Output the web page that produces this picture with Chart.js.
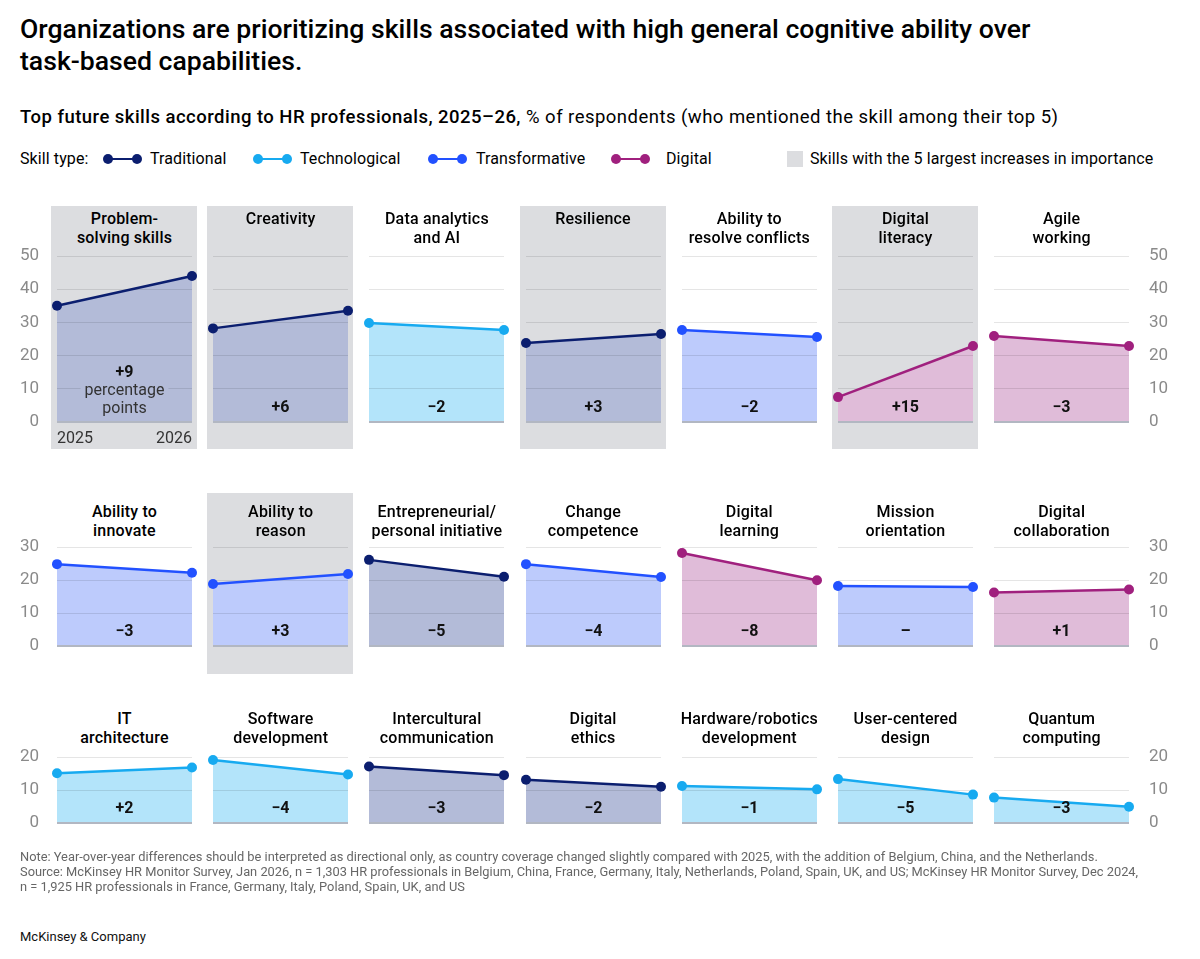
<!DOCTYPE html>
<html>
<head>
<meta charset="utf-8">
<script src="https://cdn.jsdelivr.net/npm/chart.js@4.4.1/dist/chart.umd.min.js"></script>
<style>
    body { margin: 0; width: 1200px; height: 959px; position: relative; background: #fff; overflow: hidden;
           font-family: Roboto, "Liberation Sans", sans-serif; color: #000; }
    .abs { position: absolute; }
    .title { left: 20px; top: 13px; font-size: 26.6px; line-height: 32px; font-weight: 500; white-space: nowrap; }
    .subtitle { left: 20px; top: 106px; font-size: 18.5px; letter-spacing: 0.47px; white-space: nowrap; }
    .subtitle b { font-weight: 500; }
    .legend { top: 149px; font-size: 16px; line-height: 20px; letter-spacing: 0.1px; white-space: nowrap; }
    .marker { top: 154px; width: 39px; height: 10px; }
    .marker i { position: absolute; left: 4px; right: 4px; top: 4px; height: 2px; }
    .marker b { position: absolute; top: 0; width: 10px; height: 10px; border-radius: 50%; }
    .swatch { top: 151px; left: 787px; width: 16px; height: 16px; background: #dcdde0; }
    .panelbg { background: #dcdde0; }
    .ptitle { width: 170px; text-align: center; font-size: 16px; line-height: 19px; font-weight: 500; letter-spacing: 0.2px; }
    .note { left: 20px; top: 849px; font-size: 12.85px; line-height: 15px; color: #666; white-space: nowrap; }
    .brand { left: 20px; top: 929px; font-size: 13px; color: #111; }
    canvas { position: absolute; }
</style>
</head>
<body>
<div class="abs title">Organizations are prioritizing skills associated with high general cognitive ability over<br>task-based capabilities.</div>
<div class="abs subtitle"><b>Top future skills according to HR professionals, 2025–26,</b> % of respondents (who mentioned the skill among their top 5)</div>
<div id="legend"></div>
<div id="panels"></div>
<div class="abs note">Note: Year-over-year differences should be interpreted as directional only, as country coverage changed slightly compared with 2025, with the addition of Belgium, China, and the Netherlands.<br>Source: McKinsey HR Monitor Survey, Jan 2026, n = 1,303 HR professionals in Belgium, China, France, Germany, Italy, Netherlands, Poland, Spain, UK, and US; McKinsey HR Monitor Survey, Dec 2024,<br>n = 1,925 HR professionals in France, Germany, Italy, Poland, Spain, UK, and US</div>
<div class="abs brand">McKinsey &amp; Company</div>

<script>
// --- Data ---
const years = ["2025", "2026"];

const skills = [
    "Problem-\nsolving skills", "Creativity", "Data analytics\nand AI", "Resilience",
    "Ability to\nresolve conflicts", "Digital\nliteracy", "Agile\nworking",
    "Ability to\ninnovate", "Ability to\nreason", "Entrepreneurial/\npersonal initiative", "Change\ncompetence",
    "Digital\nlearning", "Mission\norientation", "Digital\ncollaboration",
    "IT\narchitecture", "Software\ndevelopment", "Intercultural\ncommunication", "Digital\nethics",
    "Hardware/robotics\ndevelopment", "User-centered\ndesign", "Quantum\ncomputing"
];

const skillTypes = [
    "Traditional", "Traditional", "Technological", "Traditional", "Transformative", "Digital", "Digital",
    "Transformative", "Transformative", "Traditional", "Transformative", "Digital", "Transformative", "Digital",
    "Technological", "Technological", "Traditional", "Traditional", "Technological", "Technological", "Technological"
];

const values2025 = [35, 28.2, 29.8, 23.8, 27.7, 7.5, 25.9,
                    24.8, 18.8, 26.1, 24.8, 28.2, 18.2, 16.2,
                    15.1, 19.1, 17.1, 13.1, 11.2, 13.3, 7.7];
const values2026 = [44, 33.5, 27.7, 26.5, 25.6, 22.9, 22.9,
                    22.2, 21.8, 21.0, 20.9, 19.9, 17.9, 17.1,
                    16.8, 14.7, 14.5, 11.0, 10.2, 8.6, 4.9];

const changeLabels = ["+9", "+6", "−2", "+3", "−2", "+15", "−3",
                      "−3", "+3", "−5", "−4", "−8", "–", "+1",
                      "+2", "−4", "−3", "−2", "−1", "−5", "−3"];

const highlighted = ["Problem-\nsolving skills", "Creativity", "Resilience", "Digital\nliteracy", "Ability to\nreason"];

const legendTypes = ["Traditional", "Technological", "Transformative", "Digital"];
const rowMax = [50, 30, 20];

// --- Styles ---
const lineColors = { Traditional: "#0b1e6f", Technological: "#17aaf0", Transformative: "#2251ff", Digital: "#a0207e" };
const fillColors = { Traditional: "#b3bbd8", Technological: "#b3e4fa", Transformative: "#bdcbfc", Digital: "#e0bcd9" };
const FONT = "Roboto, 'Liberation Sans', sans-serif";

const plotW = 135;
const plotLeft = (col) => 57 + col * 156.2;
const rowTop = [256, 547, 757];
const rowBottom = [422, 646, 823];
const rowTitleTop = [209, 502, 709];
const greyTop = [206, 493, 0];
const greyBottom = [449, 674, 0];

// --- Legend ---
const legendEl = document.getElementById("legend");
legendEl.insertAdjacentHTML("beforeend", `<div class="abs legend" style="left:20px">Skill type:</div>`);
const markerX = [103, 253, 428, 611];
const labelX = [150, 300, 476, 666];
legendTypes.forEach((t, i) => {
    const c = lineColors[t];
    legendEl.insertAdjacentHTML("beforeend", `
        <div class="abs marker" style="left:${markerX[i]}px"><i style="background:${c}"></i>
            <b style="left:0;background:${c}"></b><b style="right:0;background:${c}"></b></div>
        <div class="abs legend" style="left:${labelX[i]}px">${t}</div>`);
});
legendEl.insertAdjacentHTML("beforeend", `<div class="abs swatch"></div>
    <div class="abs legend" style="left:810px">Skills with the 5 largest increases in importance</div>`);

// --- Change label plugin ---
const changeLabelPlugin = {
    id: "changeLabel",
    afterDraw(chart, args, opts) {
        const { ctx, chartArea } = chart;
        const cx = (chartArea.left + chartArea.right) / 2;
        ctx.save();
        ctx.textAlign = "center";
        ctx.textBaseline = "middle";
        ctx.fillStyle = "#111";
        if (opts.extra) {
            ctx.font = "400 16px " + FONT;
            const w = ctx.measureText("percentage").width + 8;
            ctx.fillStyle = opts.bg;
            ctx.fillRect(cx - w / 2, chartArea.bottom - 40, w, 18);
            ctx.fillStyle = "#333";
            ctx.fillText("percentage", cx, chartArea.bottom - 31);
            ctx.fillText("points", cx, chartArea.bottom - 13);
            ctx.fillStyle = "#111";
            ctx.font = "700 16px " + FONT;
            ctx.fillText(opts.text, cx, chartArea.bottom - 49);
        } else {
            ctx.font = "700 16px " + FONT;
            ctx.fillText(opts.text, cx, chartArea.bottom - 14);
        }
        ctx.restore();
    }
};

// --- Panels ---
const panelsEl = document.getElementById("panels");

skills.forEach((name, idx) => {
    const row = Math.floor(idx / 7);
    const col = idx % 7;
    const type = skillTypes[idx];
    const left = plotLeft(col);
    const isHi = highlighted.includes(name);
    const leftAxis = col === 0;
    const rightAxis = col === 6;
    const showYears = idx === 0;

    if (isHi) {
        panelsEl.insertAdjacentHTML("beforeend",
            `<div class="abs panelbg" style="left:${left - 6}px;top:${greyTop[row]}px;width:146px;height:${greyBottom[row] - greyTop[row]}px"></div>`);
    }
    panelsEl.insertAdjacentHTML("beforeend",
        `<div class="abs ptitle" style="left:${left + plotW / 2 - 85}px;top:${rowTitleTop[row]}px">${name.replace("\n", "<br>")}</div>`);

    // tick padding adds to the scale's top/bottom padding, so leave room for it
    const axisW = 47;
    const padTop = 34;
    const padBottom = 8;
    const xAxisH = 26;
    const canvasLeft = left - 10 - (leftAxis ? axisW : 0);
    const canvasW = plotW + 20 + (leftAxis || rightAxis ? axisW : 0);
    const canvasH = padTop + (rowBottom[row] - rowTop[row]) + xAxisH + padBottom;

    const canvas = document.createElement("canvas");
    canvas.width = canvasW;
    canvas.height = canvasH;
    canvas.style.left = canvasLeft + "px";
    canvas.style.top = (rowTop[row] - padTop) + "px";
    panelsEl.appendChild(canvas);

    new Chart(canvas.getContext("2d"), {
        type: "line",
        data: {
            labels: years,
            datasets: [{
                data: [values2025[idx], values2026[idx]],
                borderColor: lineColors[type],
                backgroundColor: fillColors[type],
                pointBackgroundColor: lineColors[type],
                pointBorderWidth: 0,
                pointRadius: 5,
                borderWidth: 2.5,
                fill: "origin",
                clip: false
            }]
        },
        plugins: [changeLabelPlugin],
        options: {
            responsive: false,
            animation: false,
            events: [],
            layout: { autoPadding: false, padding: { top: padTop, bottom: padBottom, left: 10, right: 10 } },
            plugins: {
                legend: { display: false },
                tooltip: { enabled: false },
                filler: { drawTime: "beforeDraw" },
                changeLabel: { text: changeLabels[idx], extra: idx === 0, bg: fillColors[type] }
            },
            scales: {
                x: {
                    offset: false,
                    grid: { display: false, drawTicks: false },
                    border: { display: false },
                    ticks: {
                        display: showYears, align: "inner", maxRotation: 0, padding: 7,
                        color: "#333", font: { family: FONT, size: 16 }
                    },
                    afterFit: (s) => { s.height = xAxisH; }
                },
                y: {
                    position: rightAxis ? "right" : "left",
                    min: 0,
                    max: rowMax[row],
                    grid: {
                        drawTicks: false,
                        color: (c) => c.tick.value === 0 ? "#b2b7c2" : "rgba(0,0,0,0.1)",
                        lineWidth: (c) => c.tick.value === 0 ? 2 : 1
                    },
                    border: { display: false },
                    ticks: {
                        display: leftAxis || rightAxis, stepSize: 10, padding: rightAxis ? 20 : 18,
                        color: "#8a8a8a", font: { family: FONT, size: 17 }
                    },
                    afterFit: (s) => { s.width = (leftAxis || rightAxis) ? axisW : 0; }
                }
            }
        }
    });
});
</script>
</body>
</html>
